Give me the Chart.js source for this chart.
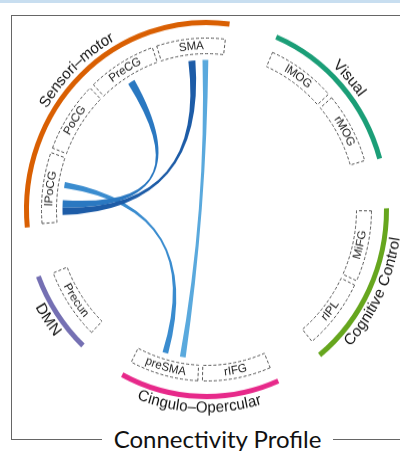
<!DOCTYPE html>
<html>
<head>
<meta charset="utf-8">
<script src="https://cdn.jsdelivr.net/npm/chart.js@4"></script>
<style>
  html, body { margin: 0; padding: 0; background: #fff; }
  body { width: 400px; height: 451px; overflow: hidden; position: relative; }
  #band { position: absolute; left: 0; top: 0; width: 400px; height: 3px; background: #c8def0; }
  #frame { position: absolute; left: 11px; top: 15px; width: 440px; height: 423px;
           border-left: 1px solid #666; border-top: 1px solid #666; border-bottom: 1px solid #666; }
  #wrap { position: absolute; left: 0; top: 0; width: 400px; height: 451px;
          transform: scaleY(1.039); transform-origin: 0 209.5px; }
  #title { position: absolute; left: 102px; width: 231px; top: 424px; height: 30px; line-height: 30px;
           text-align: center; background: #fff; font-family: Lato, "Open Sans", sans-serif;
           font-size: 24px; color: #111; white-space: nowrap; }
</style>
</head>
<body>
<div id="band"></div>
<div id="frame"></div>
<div id="wrap"><canvas id="c" width="400" height="451"></canvas></div>
<div id="title">Connectivity Profile</div>
<script>
// Networks and their member regions, in clockwise order
const networks = ['Sensori–motor', 'Visual', 'Cognitive Control', 'Cingulo–Opercular', 'DMN'];
const networkColors = ['#D95F02', '#1B9E77', '#66A61E', '#E7298A', '#7570B3'];
const regions = ['lPoCG', 'PoCG', 'PreCG', 'SMA', 'lMOG', 'rMOG', 'MiFG', 'rIPL', 'rIFG', 'preSMA', 'Precun'];
const regionNetwork = [0, 0, 0, 0, 1, 1, 2, 2, 3, 3, 4];

// Connections between regions and their strength (share of a region's sector)
const linkFrom = ['SMA', 'lPoCG', 'lPoCG', 'lPoCG'];
const linkTo = ['preSMA', 'preSMA', 'PreCG', 'SMA'];
const linkStrength = [0.09, 0.09, 0.113, 0.109];
const linkColors = ['#5aa9dd', '#3a8ccf', '#2a78c1', '#1d5ca7'];

// Where each ribbon sits inside its two sectors (fraction of the sector, clockwise)
const linkAnchorFrom = [0.697, 0.582, 0.298, 0.187];
const linkAnchorTo = [0.283, 0.56, 0.49, 0.487];

const GAP = 0.6;          // gap between networks, in region-sector units
const NODE_PAD = 0.8;     // degrees trimmed from each side of a region box

// Ring data: outer ring = networks, inner ring = regions
const netData = [], netBg = [], netIndex = [];
const nodeData = [], nodeIndex = [];
networks.forEach((n, ni) => {
  const members = regions.filter((r, ri) => regionNetwork[ri] === ni);
  netIndex.push(netData.length);
  netData.push(members.length); netBg.push(networkColors[ni]);
  netData.push(GAP); netBg.push('rgba(0,0,0,0)');
  regions.forEach((r, ri) => {
    if (regionNetwork[ri] === ni) { nodeIndex[ri] = nodeData.length; nodeData.push(1); }
  });
  nodeData.push(GAP);
});

const FONT = '"Liberation Sans", Arial, sans-serif';

function arcText(ctx, text, cx, cy, r, mid) {
  let t = (mid + Math.PI / 2) % (2 * Math.PI);
  if (t < 0) t += 2 * Math.PI;
  const outward = !(t > Math.PI / 2 && t < 3 * Math.PI / 2);
  const chars = [...text];
  const widths = chars.map(ch => ctx.measureText(ch).width);
  const total = widths.reduce((a, b) => a + b, 0);
  const dir = outward ? 1 : -1;
  const start = mid - dir * total / (2 * r);
  let acc = 0;
  chars.forEach((ch, i) => {
    const a = start + dir * (acc + widths[i] / 2) / r;
    acc += widths[i];
    ctx.save();
    ctx.translate(cx + r * Math.cos(a), cy + r * Math.sin(a));
    ctx.rotate(outward ? a + Math.PI / 2 : a - Math.PI / 2);
    ctx.fillText(ch, 0, 0);
    ctx.restore();
  });
}

const chordPlugin = {
  id: 'chords',
  afterDatasetsDraw(chart) {
    const ctx = chart.ctx;
    const netArcs = chart.getDatasetMeta(0).data;
    const nodeArcs = chart.getDatasetMeta(2).data;
    const pad = NODE_PAD * Math.PI / 180;

    // ribbons
    linkFrom.forEach((from, i) => {
      const A = nodeArcs[nodeIndex[regions.indexOf(from)]];
      const B = nodeArcs[nodeIndex[regions.indexOf(linkTo[i])]];
      const cx = A.x, cy = A.y, rc = A.innerRadius - 6;
      const w = linkStrength[i];
      const spanA = A.endAngle - A.startAngle, spanB = B.endAngle - B.startAngle;
      const a1 = A.startAngle + (linkAnchorFrom[i] - w / 2) * spanA;
      const a2 = A.startAngle + (linkAnchorFrom[i] + w / 2) * spanA;
      const b1 = B.startAngle + (linkAnchorTo[i] - w / 2) * spanB;
      const b2 = B.startAngle + (linkAnchorTo[i] + w / 2) * spanB;
      ctx.save();
      ctx.beginPath();
      ctx.moveTo(cx + rc * Math.cos(a1), cy + rc * Math.sin(a1));
      ctx.arc(cx, cy, rc, a1, a2);
      ctx.quadraticCurveTo(cx, cy, cx + rc * Math.cos(b1), cy + rc * Math.sin(b1));
      ctx.arc(cx, cy, rc, b1, b2);
      ctx.quadraticCurveTo(cx, cy, cx + rc * Math.cos(a1), cy + rc * Math.sin(a1));
      ctx.closePath();
      ctx.fillStyle = linkColors[i];
      ctx.fill();
      ctx.restore();
    });

    // dashed region boxes and region names
    regions.forEach((name, ri) => {
      const el = nodeArcs[nodeIndex[ri]];
      const a0 = el.startAngle + pad, a1 = el.endAngle - pad;
      ctx.save();
      ctx.beginPath();
      ctx.arc(el.x, el.y, el.outerRadius, a0, a1);
      ctx.arc(el.x, el.y, el.innerRadius, a1, a0, true);
      ctx.closePath();
      ctx.setLineDash([3, 2]);
      ctx.lineWidth = 1;
      ctx.strokeStyle = '#555';
      ctx.stroke();
      ctx.restore();

      ctx.save();
      ctx.font = '11.5px ' + FONT;
      ctx.fillStyle = '#222';
      ctx.textAlign = 'center';
      ctx.textBaseline = 'middle';
      arcText(ctx, name, el.x, el.y, (el.innerRadius + el.outerRadius) / 2, (el.startAngle + el.endAngle) / 2);
      ctx.restore();
    });

    // network names outside the coloured arcs
    networks.forEach((name, ni) => {
      const el = netArcs[netIndex[ni]];
      ctx.save();
      ctx.font = '15px ' + FONT;
      ctx.fillStyle = '#111';
      ctx.textAlign = 'center';
      ctx.textBaseline = 'middle';
      arcText(ctx, name, el.x, el.y, el.outerRadius + 8.5, (el.startAngle + el.endAngle) / 2);
      ctx.restore();
    });
  }
};

new Chart(document.getElementById('c'), {
  type: 'doughnut',
  data: {
    labels: netData.map((v, i) => i),
    datasets: [
      { data: netData, backgroundColor: netBg, borderWidth: 0, hoverOffset: 0, offset: 0, weight: 5 },
      { data: [1], backgroundColor: ['rgba(0,0,0,0)'], borderWidth: 0, hoverOffset: 0, offset: 0, weight: 12.5 },
      { data: nodeData, backgroundColor: 'rgba(0,0,0,0)', borderWidth: 0, hoverOffset: 0, offset: 0, weight: 15 }
    ]
  },
  options: {
    responsive: false,
    animation: false,
    events: [],
    rotation: 264.5,
    circumference: 360,
    radius: 182.5,
    cutout: (150 / 182.5 * 100) + '%',
    layout: { padding: { left: 13, right: 0, top: 0, bottom: 32 } },
    plugins: { legend: { display: false }, tooltip: { enabled: false }, title: { display: false } }
  },
  plugins: [chordPlugin]
});
</script>
</body>
</html>
